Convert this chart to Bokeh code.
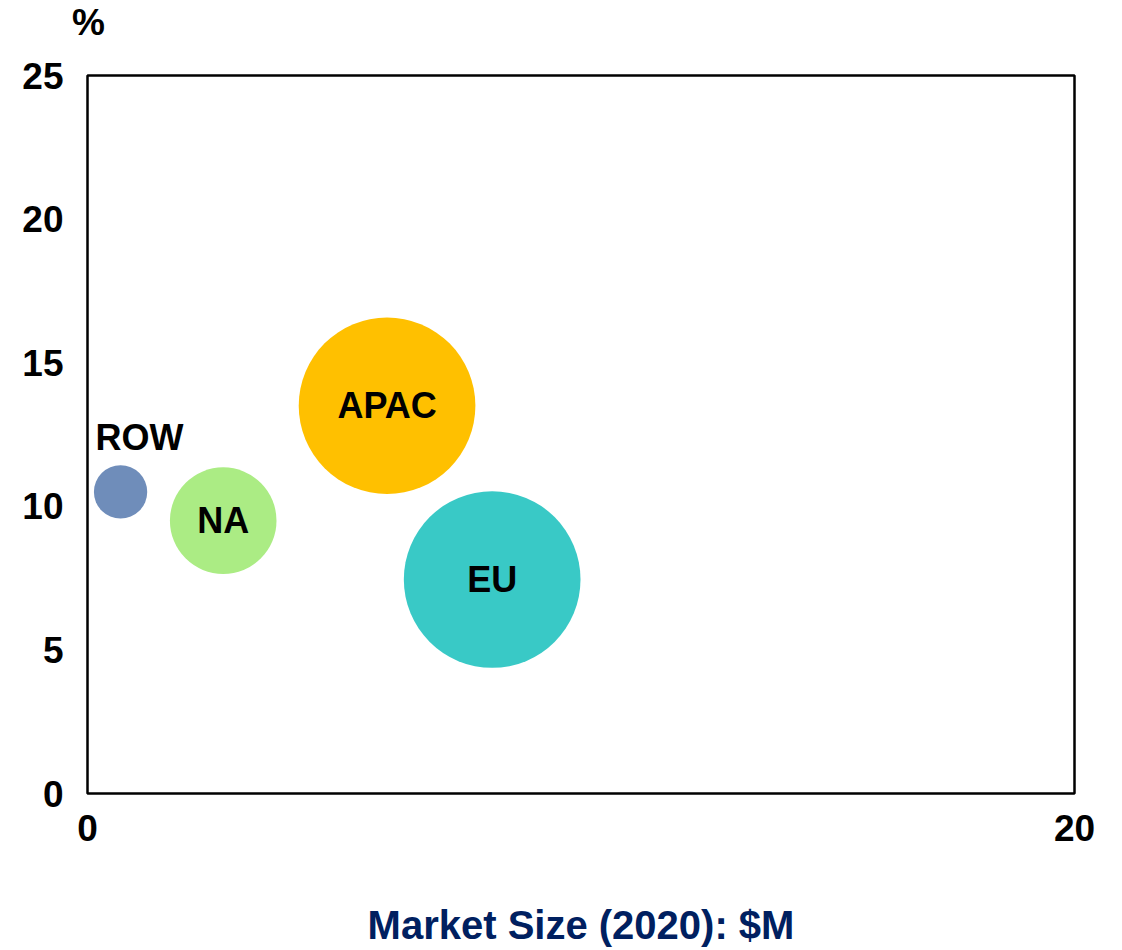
from bokeh.plotting import figure
from bokeh.models import ColumnDataSource, Range1d, FixedTicker
from bokeh.core.properties import value
from bokeh.embed import file_html
from bokeh.resources import INLINE

# ---- data ----
regions = ["ROW", "NA", "APAC", "EU"]
market_size = [0.67, 2.75, 6.07, 8.2]      # x: Market Size (2020), $M
growth_pct = [10.5, 9.5, 13.5, 7.45]       # y: %
bubble_radius = [0.54, 1.08, 1.79, 1.79]   # bubble size (x data units)
colors = ["#6F8DBA", "#ABEC84", "#FFC000", "#39C9C6"]
label_inside = [False, True, True, True]

x_ticks = [0, 20]
y_ticks = [0, 5, 10, 15, 20, 25]
y_unit = "%"

FONT = "Liberation Sans"

src = ColumnDataSource(dict(x=market_size, y=growth_pct, r=bubble_radius,
                            color=colors, label=regions))

p = figure(width=1110, height=949, output_backend="svg", toolbar_location=None,
           x_range=Range1d(0, 20), y_range=Range1d(0, 25),
           min_border_left=87, min_border_right=36, min_border_top=75,
           min_border_bottom=147)

p.background_fill_color = "white"
p.border_fill_color = "white"
p.outline_line_color = "black"
p.outline_line_width = 2.5
p.grid.visible = False

for ax in (p.xaxis[0], p.yaxis[0]):
    ax.axis_line_color = None
    ax.major_tick_line_color = None
    ax.minor_tick_line_color = None
    ax.major_label_text_font = FONT
    ax.major_label_text_font_size = "37px"
    ax.major_label_text_font_style = "bold"
    ax.major_label_text_color = "black"

p.xaxis.ticker = FixedTicker(ticks=x_ticks)
p.yaxis.ticker = FixedTicker(ticks=y_ticks)
p.xaxis.major_label_standoff = 15
p.yaxis.major_label_standoff = 18

p.xaxis.axis_label = "Market Size (2020): $M"
p.xaxis.axis_label_text_font = FONT
p.xaxis.axis_label_text_font_size = "40px"
p.xaxis.axis_label_text_font_style = "bold"
p.xaxis.axis_label_text_color = "#002060"
p.xaxis.axis_label_standoff = 59

p.circle(x="x", y="y", radius="r", radius_dimension="x", source=src,
         fill_color="color", line_color=None)

inside = ColumnDataSource(dict(
    x=[xv for xv, f in zip(market_size, label_inside) if f],
    y=[yv for yv, f in zip(growth_pct, label_inside) if f],
    label=[l for l, f in zip(regions, label_inside) if f]))
outside = ColumnDataSource(dict(
    x=[xv for xv, f in zip(market_size, label_inside) if not f],
    y=[yv for yv, f in zip(growth_pct, label_inside) if not f],
    label=[l for l, f in zip(regions, label_inside) if not f]))

p.text(x="x", y="y", text="label", source=inside,
       text_font=value(FONT), text_font_size="36px", text_font_style="bold",
       text_color="black", text_align="center", text_baseline="middle")
p.text(x="x", y="y", text="label", source=outside,
       x_offset=19, y_offset=-54,
       text_font=value(FONT), text_font_size="36px", text_font_style="bold",
       text_color="black", text_align="center", text_baseline="middle")

# "%" unit label above the top-left corner of the frame (overlay: not clipped)
p.text(x=[x_ticks[0]], y=[y_ticks[-1]], text=[y_unit],
       x_offset=1, y_offset=-53, level="overlay",
       text_font=value(FONT), text_font_size="37px", text_font_style="bold",
       text_color="black", text_align="center", text_baseline="alphabetic")

open("out.html", "w").write(file_html(p, INLINE))
